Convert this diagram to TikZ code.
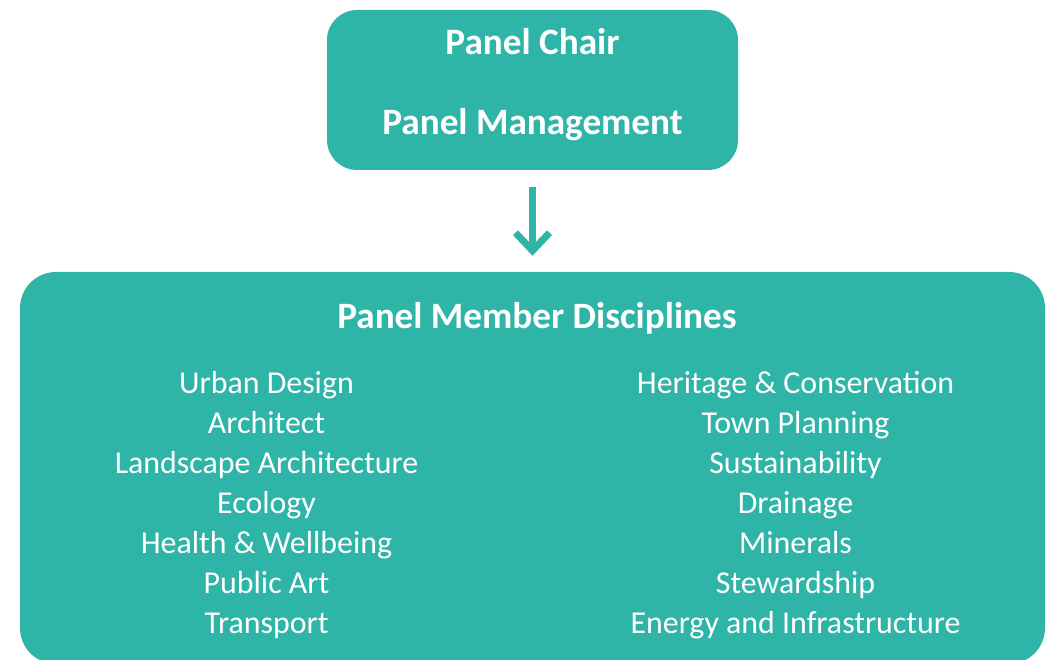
\documentclass[tikz,border=0pt]{standalone}
\usepackage{fontspec}
\setmainfont{Carlito}
\usetikzlibrary{arrows.meta}
\definecolor{tealbox}{HTML}{2FB5A8}
\tikzset{
  panelbox/.style={fill=tealbox, draw=none, inner sep=0pt},
  headtxt/.style={text=white, font=\fontsize{37.2}{42}\selectfont\bfseries, anchor=base, inner sep=0pt},
  itemtxt/.style={text=white, font=\fontsize{31.9}{40}\selectfont, anchor=base, inner sep=0pt},
  flowarrow/.style={draw=tealbox, line width=7pt, -{Straight Barb[length=18pt,width=34pt]}}
}
\begin{document}
\begin{tikzpicture}[x=1pt,y=-1pt]
\useasboundingbox (0,0) rectangle (1052,660);
\clip (0,0) rectangle (1052,660);
\node[panelbox, minimum width=411pt, minimum height=160pt, rounded corners=30pt] (top) at (532.5,90) {};
\node[panelbox, minimum width=1025pt, minimum height=392pt, rounded corners=36pt] (bottom) at (532.5,468) {};
\node[headtxt] (chair) at (532.5,55) {Panel Chair};
\node[headtxt] (mgmt) at (532.5,135) {Panel Management};
\node[headtxt] (disc) at (537,328) {Panel Member Disciplines};
\draw[flowarrow, shorten <=17pt, shorten >=16pt] (top.south) -- (bottom.north);
\foreach \t [count=\i] in {Urban Design, Architect, Landscape Architecture, Ecology, Health \& Wellbeing, Public Art, Transport}
  \node[itemtxt] (l\i) at (266.5, 353+40*\i) {\t};
\foreach \t [count=\i] in {Heritage \& Conservation, Town Planning, Sustainability, Drainage, Minerals, Stewardship, Energy and Infrastructure}
  \node[itemtxt] (r\i) at (795.5, 353+40*\i) {\t};
\end{tikzpicture}
\end{document}
